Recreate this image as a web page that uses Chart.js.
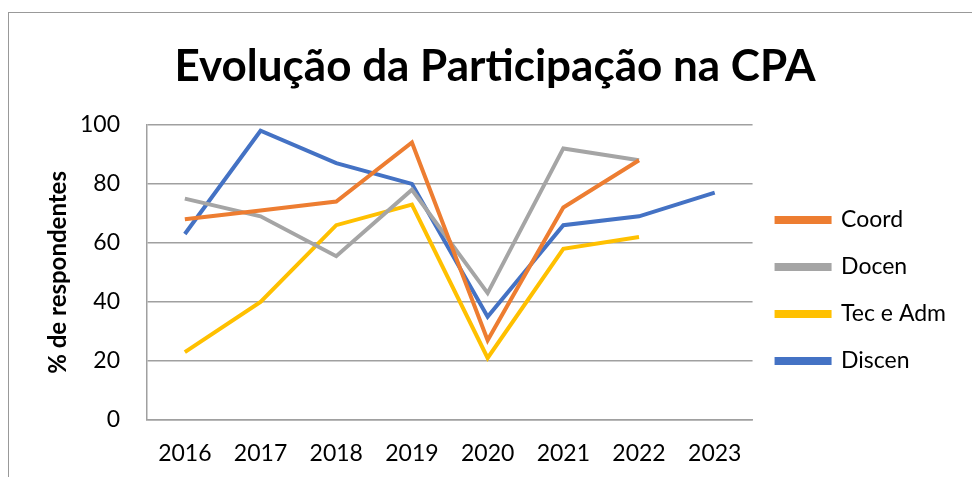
<!DOCTYPE html>
<html>
<head>
<meta charset="utf-8">
<script src="https://cdn.jsdelivr.net/npm/chart.js@4.4.0/dist/chart.umd.min.js"></script>
<style>
  html, body { margin: 0; padding: 0; background: #fff; }
  #wrap { position: relative; width: 972px; height: 477px; }
  #frame { position: absolute; left: 8px; top: 12px; right: -2px; bottom: -2px; border: 1px solid #999; }
  canvas { position: absolute; left: 0; top: 0; }
</style>
</head>
<body>
<div id="wrap">
  <div id="frame"></div>
  <canvas id="chart" width="972" height="477"></canvas>
</div>
<script>
const years = ['2016', '2017', '2018', '2019', '2020', '2021', '2022', '2023'];
const coord = [68, 71, 74, 94, 27, 72, 88, null];
const docen = [75, 69, 55.5, 78, 43, 92, 88, null];
const tecAdm = [23, 40, 66, 73, 21, 58, 62, null];
const discen = [63, 98, 87, 80, 35, 66, 69, 77];

const font = "Lato, 'Open Sans', sans-serif";

function series(label, data, color) {
  return {
    label: label,
    data: data,
    borderColor: color,
    backgroundColor: color,
    borderWidth: 4,
    pointRadius: 0,
    tension: 0,
    spanGaps: false
  };
}

new Chart(document.getElementById('chart'), {
  type: 'line',
  data: {
    labels: years,
    datasets: [
      series('Coord', coord, '#ED7D31'),
      series('Docen', docen, '#A5A5A5'),
      series('Tec e Adm', tecAdm, '#FFC000'),
      series('Discen', discen, '#4472C4')
    ]
  },
  options: {
    responsive: false,
    animation: false,
    layout: { padding: { top: 40, right: 16, bottom: 0, left: 34 } },
    plugins: {
      title: {
        display: true,
        text: 'Evolução da Participação na CPA',
        color: '#000',
        font: { family: font, size: 44, weight: 'bold' },
        padding: { top: 0, bottom: 32 }
      },
      legend: {
        position: 'right',
        title: {
          display: true,
          text: ' ',
          font: { size: 10 },
          padding: 26
        },
        labels: {
          color: '#000',
          font: { family: font, size: 23 },
          boxWidth: 53,
          boxHeight: 4,
          padding: 24
        }
      },
      tooltip: { enabled: false }
    },
    scales: {
      x: {
        offset: true,
        afterFit: function (axis) { axis.height = 57; },
        grid: { display: false, drawTicks: false },
        border: { color: '#a0a0a0', width: 1.5 },
        ticks: { color: '#000', font: { family: font, size: 23 }, padding: 20 }
      },
      y: {
        min: 0,
        max: 100,
        afterFit: function (axis) { axis.width = 113; },
        ticks: { stepSize: 20, color: '#000', font: { family: font, size: 23 }, padding: 27 },
        grid: { color: '#a0a0a0', lineWidth: 1.5, drawTicks: false },
        border: { color: '#a0a0a0', width: 1.5 },
        title: {
          display: true,
          text: '% de respondentes',
          color: '#000',
          font: { family: font, size: 24, weight: 'bold' },
          padding: { top: 10, bottom: 6 }
        }
      }
    }
  }
});
</script>
</body>
</html>
